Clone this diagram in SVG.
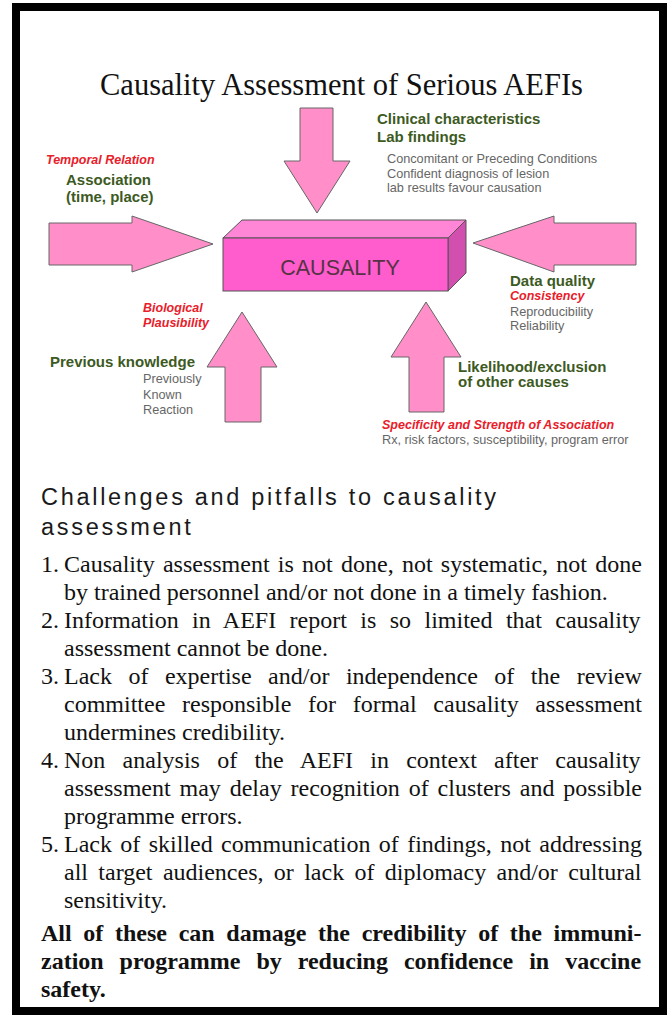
<svg xmlns="http://www.w3.org/2000/svg" width="672" height="1015" viewBox="0 0 672 1015">
<style>
.title{font-family:"Liberation Serif","Times New Roman",serif;font-size:30.5px;fill:#111}
.g{font-family:"Liberation Sans",Arial,sans-serif;font-size:15px;font-weight:bold;fill:#3d5a1f}
.r{font-family:"Liberation Sans",Arial,sans-serif;font-size:12.5px;font-weight:bold;font-style:italic;fill:#e8202a}
.s{font-family:"Liberation Sans",Arial,sans-serif;font-size:12.7px;fill:#666}
.arrow{fill:#ff8ec9;stroke:#666;stroke-width:1}
.h{font-family:"Liberation Sans",Arial,sans-serif;font-size:23.5px;fill:#1a1a1a;letter-spacing:2.7px}
.t{font-family:"Liberation Serif","Times New Roman",serif;font-size:24px;fill:#111}
.b{font-family:"Liberation Serif","Times New Roman",serif;font-size:24px;font-weight:bold;fill:#111}
</style>
<rect x="0" y="0" width="672" height="1015" fill="#fff"/>
<rect x="16" y="7" width="647" height="1004" fill="#fff" stroke="#000" stroke-width="8"/>
<text class="title" x="100" y="95">Causality Assessment of Serious AEFIs</text>
<g id="connectors">
<polygon class="arrow" points="49,223 132,223 132,216 213,244 132,272 132,265 49,265"/>
<polygon class="arrow" points="636,223 554,223 554,216 473,243 554,272 554,265 636,265"/>
<polygon class="arrow" points="300,108 333,108 333,161 350,161 317,213 284,161 300,161"/>
<polygon class="arrow" points="225,422 225,367 207,367 242,312 277,367 261,367 261,422"/>
<polygon class="arrow" points="409,412 409,357 391,357 426,302 461,357 444,357 444,412"/>
</g>
<g id="causality">
<polygon points="223,238 242,220 466,220 448,238" fill="#ff86d6" stroke="#555" stroke-width="1"/>
<polygon points="448,238 466,220 466,273 448,291" fill="#d24fb0" stroke="#555" stroke-width="1"/>
<rect x="223" y="238" width="225" height="53" fill="#ff5ccd" stroke="#555" stroke-width="1"/>
<text x="340" y="275" text-anchor="middle" font-family="Liberation Sans, Arial, sans-serif" font-size="21.5" fill="#553344">CAUSALITY</text>
</g>
<g id="clinical">
<text class="g" x="377" y="124">Clinical characteristics</text>
<text class="g" x="377" y="142">Lab findings</text>
<text class="s" x="387" y="163">Concomitant or Preceding Conditions</text>
<text class="s" x="387" y="178">Confident diagnosis of lesion</text>
<text class="s" x="387" y="192">lab results favour causation</text>
</g>
<g id="temporal">
<text class="r" x="46" y="164">Temporal Relation</text>
<text class="g" x="66" y="185">Association</text>
<text class="g" x="66" y="202">(time, place)</text>
</g>
<g id="dataquality">
<text class="g" x="510" y="286">Data quality</text>
<text class="r" x="510" y="300">Consistency</text>
<text class="s" x="510" y="316">Reproducibility</text>
<text class="s" x="510" y="330">Reliability</text>
</g>
<g id="biological">
<text class="r" x="143" y="312">Biological</text>
<text class="r" x="143" y="327">Plausibility</text>
<text class="g" x="50" y="367">Previous knowledge</text>
<text class="s" x="143" y="383">Previously</text>
<text class="s" x="143" y="399">Known</text>
<text class="s" x="143" y="414">Reaction</text>
</g>
<g id="likelihood">
<text class="g" x="458" y="372">Likelihood/exclusion</text>
<text class="g" x="458" y="387">of other causes</text>
<text class="r" x="382" y="429">Specificity and Strength of Association</text>
<text class="s" x="382" y="444">Rx, risk factors, susceptibility, program error</text>
</g>
<g id="challenges">
<text class="h" x="41" y="505">Challenges and pitfalls to causality</text>
<text class="h" x="41" y="535">assessment</text>
<text class="t" x="41" y="572">1.</text>
<text class="t" x="64" y="572" word-spacing="2.25">Causality assessment is not done, not systematic, not done</text>
<text class="t" x="64" y="600">by trained personnel and/or not done in a timely fashion.</text>
<text class="t" x="41" y="628">2.</text>
<text class="t" x="64" y="628" word-spacing="7.42">Information in AEFI report is so limited that causality</text>
<text class="t" x="64" y="656">assessment cannot be done.</text>
<text class="t" x="41" y="684">3.</text>
<text class="t" x="64" y="684" word-spacing="10.5">Lack of expertise and/or independence of the review</text>
<text class="t" x="64" y="712" word-spacing="10.7">committee responsible for formal causality assessment</text>
<text class="t" x="64" y="740">undermines credibility.</text>
<text class="t" x="41" y="768">4.</text>
<text class="t" x="64" y="768" word-spacing="11.26">Non analysis of the AEFI in context after causality</text>
<text class="t" x="64" y="796" word-spacing="2.87">assessment may delay recognition of clusters and possible</text>
<text class="t" x="64" y="824">programme errors.</text>
<text class="t" x="41" y="852">5.</text>
<text class="t" x="64" y="852" word-spacing="2.39">Lack of skilled communication of findings, not addressing</text>
<text class="t" x="64" y="880" word-spacing="4.35">all target audiences, or lack of diplomacy and/or cultural</text>
<text class="t" x="64" y="908">sensitivity.</text>
<text class="b" x="41" y="941" word-spacing="5.67">All of these can damage the credibility of the immuni-</text>
<text class="b" x="41" y="969" word-spacing="9.95">zation programme by reducing confidence in vaccine</text>
<text class="b" x="41" y="997">safety.</text>
</g>
</svg>
